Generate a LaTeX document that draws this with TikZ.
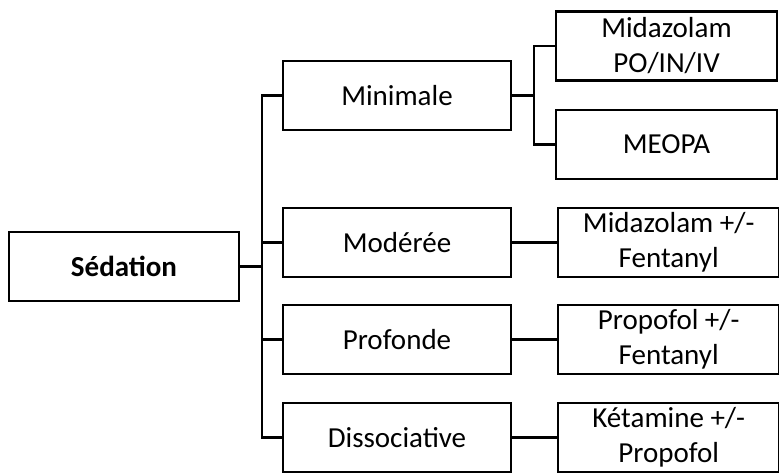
\documentclass[tikz,border=0pt]{standalone}
\usepackage{fontspec}
\setmainfont{Carlito}
\usetikzlibrary{positioning}
\tikzset{
  box/.style={draw, line width=2.2pt, rectangle, minimum height=69pt, inner sep=0pt,
    align=center, font=\fontsize{29}{35}\selectfont},
  level/.style={box, minimum width=228pt},
  drug/.style={box, minimum width=221pt},
  link/.style={line width=2.2pt},
}
\begin{document}
\begin{tikzpicture}[x=1pt,y=-1pt]
\useasboundingbox (0,0) rectangle (779,473);
% root
\node[box, minimum width=230pt, font=\fontsize{29}{35}\selectfont\bfseries] (sed) at (124,266.5) {Sédation};
% levels of sedation
\node[level] (mini) at (397,95.5) {Minimale};
\node[level] (mod) at (397,242.5) {Modérée};
\node[level] (prof) at (397,339.5) {Profonde};
\node[level] (diss) at (397,437.5) {Dissociative};
% drugs
\node[drug] (midapo) at (666.5,46) {Midazolam\\PO/IN/IV};
\node[drug] (meopa) at (666.5,144.5) {MEOPA};
\node[drug, right=45pt of mod] (midafen) {Midazolam +/-\\Fentanyl};
\node[drug, right=45pt of prof] (propfen) {Propofol +/-\\Fentanyl};
\node[drug, right=45pt of diss] (ketprop) {Kétamine +/-\\Propofol};
% connectors
\foreach \n in {mini,mod,prof,diss}
  \draw[link] (sed.east) -- ++(22,0) |- (\n.west);
\draw[link] (mini.east) -- ++(22,0) |- (midapo.west);
\draw[link] (mini.east) -- ++(22,0) |- (meopa.west);
\draw[link] (mod) -- (midafen);
\draw[link] (prof) -- (propfen);
\draw[link] (diss) -- (ketprop);
\end{tikzpicture}
\end{document}
